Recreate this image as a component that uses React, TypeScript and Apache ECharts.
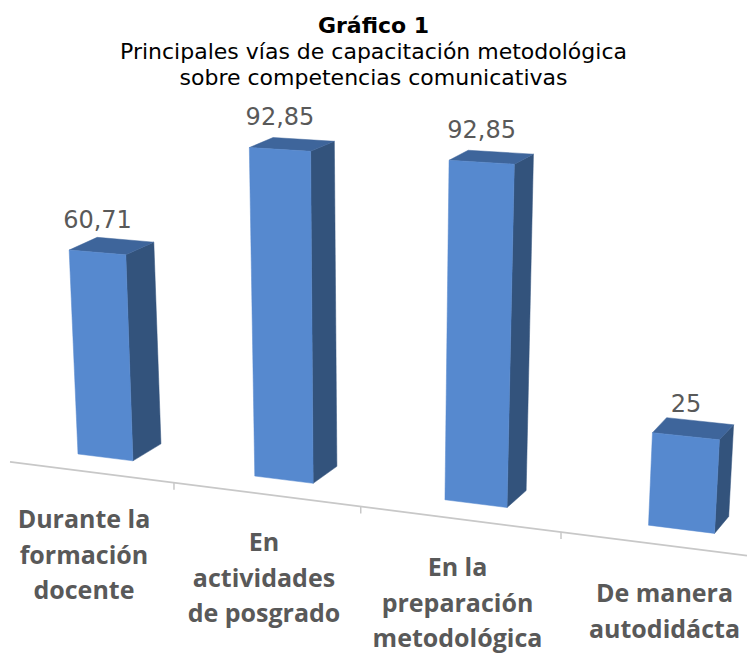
import React, { useEffect, useRef } from "react";
import * as echarts from "echarts";

// ---- data ----
const titleText = "Gráfico 1";
const subtitleLines = [
  "Principales vías de capacitación metodológica",
  "sobre competencias comunicativas",
];
const categories = [
  "Durante la\nformación\ndocente",
  "En\nactividades\nde posgrado",
  "En la\npreparación\nmetodológica",
  "De manera\nautodidácta",
];
const values = [60.71, 92.85, 92.85, 25];
const valueLabels = ["60,71", "92,85", "92,85", "25"];

// ---- view constants (perspective look of the 3D column chart) ----
const FLOOR_SLOPE = 0.1248;
const AXIS_SLOPE = 0.1275;
const AXIS_DROP = 16.3;
const PERSP_Q = 0.000229;
const LEAN_K = 0.000151;
const FRONT = "#5689cf";
const TOP = "#3e659b";
const SIDE = "#33537c";
const TEXT_GRAY = "#595959";

export default function App() {
  const ref = useRef<HTMLDivElement>(null);

  useEffect(() => {
    if (!ref.current) return;
    const chart = echarts.init(ref.current, undefined, { renderer: "svg" });

    const renderItem = (params: any, api: any) => {
      const i = api.value(0);
      const v = api.value(1);
      const X0 = api.coord([0, 0])[0];
      const X3 = api.coord([categories.length - 1, 0])[0];
      const X = api.coord([i, 0])[0];
      const zeroY = api.coord([i, 0])[1];
      const band = api.size([1, 0])[0];
      const ppu = api.size([0, 1])[1];
      const gridLeft = X0 - band / 2;
      const persp = (x: number) => x + PERSP_Q * (x - X0) * (x - X0);
      const P0 = persp(X0);
      const P3 = persp(X3);
      const baseY = (x: number) => zeroY + FLOOR_SLOPE * (x - gridLeft);
      const axisY = (x: number) => zeroY + AXIS_DROP + AXIS_SLOPE * (x - gridLeft);
      const labelX = (k: number) => persp(api.coord([k, 0])[0]) - 21.5 + 1.5 * k;

      const cx = persp(X);
      const w = band * 0.32 * (1 + 0.00035 * (cx - P0));
      const xbl = cx - w / 2;
      const xbr = cx + w / 2;
      const yBL = baseY(xbl);
      const yBR = baseY(xbr);
      const rel = (P3 - cx) / (P3 - P0);
      const m = 1 - 0.092 * rel * rel;
      const h = v * ppu * m;
      const VX = P0 + 0.45 * (P3 - P0);
      const xtl = xbl + (xbl - VX) * LEAN_K * h;
      const xtr = xbr + (xbr - VX) * LEAN_K * h;
      const botTilt = yBR - yBL;
      const topTilt = botTilt * (1 - (0.5 * h) / 340);
      const ytl = yBL - h;
      const ytr = ytl + topTilt;
      const dx = 28 - 0.024 * (cx - P0);
      const dyT = -17 + 7 * Math.min(h / 330, 1);
      const dyB = -17;

      const children: any[] = [];
      if (i === 0) {
        children.push({
          type: "line",
          shape: { x1: 10, y1: axisY(10), x2: 747, y2: axisY(747) },
          style: { stroke: "#c8c8c8", lineWidth: 1.75 },
        });
      }
      if (i < categories.length - 1) {
        const tx = (labelX(i) + labelX(i + 1)) / 2;
        children.push({
          type: "line",
          shape: { x1: tx, y1: axisY(tx), x2: tx, y2: axisY(tx) + 7 },
          style: { stroke: "#c8c8c8", lineWidth: 1.5 },
        });
      }
      children.push({
        type: "polygon",
        shape: {
          points: [
            [xtr, ytr],
            [xtr + dx, ytr + dyT],
            [xbr + dx, yBR + dyB],
            [xbr, yBR],
          ],
        },
        style: { fill: SIDE, stroke: SIDE, lineWidth: 0.5 },
      });
      children.push({
        type: "polygon",
        shape: {
          points: [
            [xtl, ytl],
            [xtl + dx, ytl + dyT],
            [xtr + dx, ytr + dyT],
            [xtr, ytr],
          ],
        },
        style: { fill: TOP, stroke: TOP, lineWidth: 0.5 },
      });
      children.push({
        type: "polygon",
        shape: {
          points: [
            [xtl, ytl],
            [xtr, ytr],
            [xbr, yBR],
            [xbl, yBL],
          ],
        },
        style: { fill: FRONT, stroke: FRONT, lineWidth: 0.5 },
      });
      children.push({
        type: "text",
        style: {
          text: valueLabels[i],
          x: (xtl + xtr) / 2,
          y: (ytl + ytr) / 2 - 32.3,
          align: "center",
          verticalAlign: "middle",
          fontFamily: "DejaVu Sans",
          fontSize: 24,
          fill: TEXT_GRAY,
        },
      });
      const lx = labelX(i);
      children.push({
        type: "text",
        style: {
          text: categories[i],
          x: lx,
          y: axisY(lx) + 29.5,
          align: "center",
          verticalAlign: "top",
          lineHeight: 35.5,
          fontFamily: "Open Sans",
          fontWeight: "bold",
          fontSize: 25,
          fill: TEXT_GRAY,
        },
      });
      return { type: "group", children };
    };

    chart.setOption({
      animation: false,
      backgroundColor: "#ffffff",
      title: {
        text: titleText,
        subtext: subtitleLines.join("\n"),
        left: "center",
        top: 12.4,
        padding: [0, 0, 0, 7],
        itemGap: 0,
        textStyle: {
          fontFamily: "DejaVu Sans",
          fontWeight: "bold",
          fontSize: 22,
          lineHeight: 26,
          color: "#000000",
        },
        subtextStyle: {
          fontFamily: "DejaVu Sans",
          fontSize: 22,
          lineHeight: 26,
          color: "#000000",
        },
      },
      grid: { left: 19.6, width: 687, top: 76.7, height: 370 },
      xAxis: { type: "category", data: categories, show: false },
      yAxis: { type: "value", min: 0, max: 100, show: false },
      series: [
        {
          type: "custom",
          silent: true,
          renderItem,
          data: values.map((v, i) => [i, v]),
        },
      ],
    });

    return () => chart.dispose();
  }, []);

  return (
    <div
      ref={ref}
      style={{ position: "fixed", left: 0, top: 0, width: 747, height: 654 }}
    />
  );
}
